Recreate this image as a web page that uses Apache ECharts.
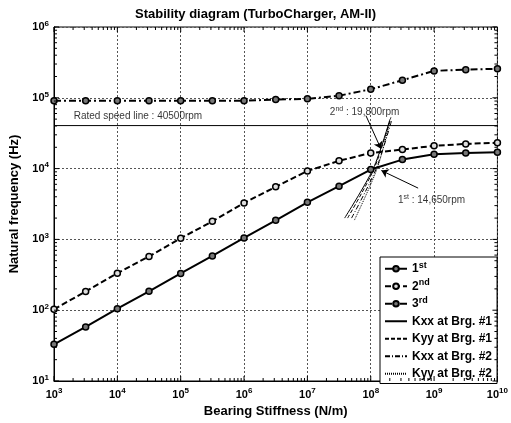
<!DOCTYPE html>
<html><head><meta charset="utf-8">
<script src="https://cdn.jsdelivr.net/npm/echarts@6/dist/echarts.min.js"></script>
<style>html,body{margin:0;padding:0;background:#fff}#c{width:511px;height:423px}</style>
</head><body><div id="c"></div>
<script>
var stiffness = [1e3, 3.16e3, 1e4, 3.16e4, 1e5, 3.16e5, 1e6, 3.16e6, 1e7, 3.16e7, 1e8, 3.16e8, 1e9, 3.16e9, 1e10];
var mode1 = [33, 58, 105, 185, 330, 585, 1050, 1860, 3340, 5650, 9700, 13400, 16000, 16600, 17000];
var mode2 = [103, 184, 333, 575, 1040, 1800, 3270, 5530, 9250, 12900, 16600, 18600, 21000, 22300, 23200];
var mode3 = [91000, 91000, 91000, 91000, 91000, 91000, 91000, 94500, 96700, 107000, 132000, 177000, 240000, 250000, 257000];
var kxx1 = [[3.87e7, 2000], [1.094e8, 9980], [2.01e8, 49700]];
var kyy1 = [[4.31e7, 2000], [1.13e8, 9980], [2.08e8, 53000]];
var kxx2 = [[4.98e7, 2000], [1.22e8, 9980], [2.16e8, 49700]];
var kyy2 = [[5.53e7, 1875], [1.26e8, 9980], [2.01e8, 46600]];
var ratedSpeed = 40500;
var xRange = [1e3, 1e10];
var yRange = [1e1, 1e6];
var xDecades = [3, 4, 5, 6, 7, 8, 9, 10];
var yDecades = [1, 2, 3, 4, 5, 6];

function zip(xs, ys) { return xs.map(function (x, i) { return [x, ys[i]]; }); }
var xTicks = [], yTicks = [];
xDecades.forEach(function (n) { for (var k = 1; k <= 9; k++) { if (n === 10 && k > 1) break; xTicks.push([k * Math.pow(10, n), yRange[0], k === 1 ? 1 : 0]); } });
yDecades.forEach(function (n) { for (var k = 1; k <= 9; k++) { if (n === 6 && k > 1) break; yTicks.push([xRange[0], k * Math.pow(10, n), k === 1 ? 1 : 0]); } });

var FONT = 'Liberation Sans, Arial, sans-serif';
function pow10(v) { var e = Math.round(Math.log10(v)); return '10{s|' + e + '}'; }
var richLbl = { s: { fontSize: 8, fontWeight: 'bold', fontFamily: FONT, color: '#000', padding: [0, 0, 7, 0] } };
var supRich = { s: { fontSize: 9, fontWeight: 'bold', fontFamily: FONT, color: '#000', padding: [0, 0, 7, 0], lineHeight: 17.5 } };

var chart = echarts.init(document.getElementById('c'));
var markerStyle = function (fill) { return { color: fill, borderColor: '#000', borderWidth: 1.5 }; };
var lineDefaults = { type: 'line', symbol: 'none', showSymbol: false, color: '#000', z: 3, lineStyle: { color: '#000', width: 1 } };
function kLine(name, data, type) {
  return Object.assign({}, lineDefaults, { name: name, data: data, smooth: 0.3, lineStyle: { color: '#000', width: 1, type: type } });
}
var hideSym = { opacity: 0 };

chart.setOption({
  animation: false,
  backgroundColor: '#fff',
  title: { text: 'Stability diagram (TurboCharger, AM-II)', left: 'center', top: 3, textStyle: { fontFamily: FONT, fontSize: 13, fontWeight: 'bold', color: '#000' } },
  grid: { left: 51, right: 10, top: 27, bottom: 38, show: true, borderColor: '#000', borderWidth: 1 },
  legend: {
    orient: 'vertical', left: 380, top: 257,
    backgroundColor: '#fff', borderColor: '#000', borderWidth: 1, padding: [3, 5, 1, 4],
    itemWidth: 22, itemHeight: 7, itemGap: 0,
    textStyle: { fontFamily: FONT, fontSize: 12, fontWeight: 'bold', color: '#000', lineHeight: 17.5, rich: supRich },
    formatter: function (n) {
      if (n === '1st') return '1{s|st}';
      if (n === '2nd') return '2{s|nd}';
      if (n === '3rd') return '3{s|rd}';
      return n;
    },
    data: ['1st', '2nd', '3rd',
      { name: 'Kxx at Brg. #1', itemStyle: hideSym },
      { name: 'Kyy at Brg. #1', itemStyle: hideSym },
      { name: 'Kxx at Brg. #2', itemStyle: hideSym },
      { name: 'Kyy at Brg. #2', itemStyle: hideSym }]
  },
  xAxis: {
    type: 'log', logBase: 10, min: xRange[0], max: xRange[1],
    name: 'Bearing Stiffness (N/m)', nameLocation: 'middle', nameGap: 24,
    nameTextStyle: { fontFamily: FONT, fontSize: 13, fontWeight: 'bold', color: '#000' },
    axisLine: { lineStyle: { color: '#000' } }, axisTick: { show: false },
    axisLabel: { formatter: pow10, fontFamily: FONT, fontSize: 11, fontWeight: 'bold', color: '#000', margin: 6, rich: richLbl },
    splitLine: { show: true, lineStyle: { color: '#555', type: [2, 2], width: 1 } }
  },
  yAxis: {
    type: 'log', logBase: 10, min: yRange[0], max: yRange[1],
    name: 'Natural frequency (Hz)', nameLocation: 'middle', nameGap: 33,
    nameTextStyle: { fontFamily: FONT, fontSize: 13, fontWeight: 'bold', color: '#000' },
    axisLine: { lineStyle: { color: '#000' } }, axisTick: { show: false },
    axisLabel: { formatter: pow10, fontFamily: FONT, fontSize: 11, fontWeight: 'bold', color: '#000', margin: 5, rich: richLbl },
    splitLine: { show: true, lineStyle: { color: '#555', type: [2, 2], width: 1 } }
  },
  series: [
    Object.assign({}, lineDefaults, { name: '1st', data: zip(stiffness, mode1), symbol: 'circle', showSymbol: true, symbolSize: 6, itemStyle: markerStyle('#777'), lineStyle: { color: '#000', width: 2 } }),
    Object.assign({}, lineDefaults, { name: '2nd', data: zip(stiffness, mode2), symbol: 'circle', showSymbol: true, symbolSize: 6, itemStyle: markerStyle('#ddd'), lineStyle: { color: '#000', width: 2, type: [6, 3] } }),
    Object.assign({}, lineDefaults, { name: '3rd', data: zip(stiffness, mode3), symbol: 'circle', showSymbol: true, symbolSize: 6, itemStyle: markerStyle('#777'), lineStyle: { color: '#000', width: 2, type: [7, 3, 2, 3] } }),
    kLine('Kxx at Brg. #1', kxx1, 'solid'),
    kLine('Kyy at Brg. #1', kyy1, [4, 2]),
    kLine('Kxx at Brg. #2', kxx2, [5, 2, 1, 2]),
    kLine('Kyy at Brg. #2', kyy2, [1, 1]),
    {
      name: 'rated', type: 'line', symbol: 'none', data: [[xRange[0], ratedSpeed], [xRange[1], ratedSpeed]],
      lineStyle: { color: '#000', width: 1 }, z: 2
    },
    {
      name: 'annot', type: 'scatter', symbolSize: 0, z: 5,
      data: [
        { value: [8e7, 63000], label: { formatter: '2{s|nd} : 19,800rpm', position: 'inside' } },
        { value: [9.1e8, 3600], label: { formatter: '1{s|st} : 14,650rpm', position: 'inside' } },
        { value: [2050, 54000], label: { formatter: 'Rated speed line : 40500rpm', position: 'right', distance: 0 } }
      ],
      label: { show: true, fontFamily: FONT, fontSize: 10, color: '#000', rich: { s: { fontSize: 7, fontFamily: FONT, color: '#000', padding: [0, 0, 6, 0] } } },
      markLine: {
        silent: true, symbol: ['none', 'arrow'], symbolSize: 7,
        lineStyle: { color: '#000', width: 1, type: 'solid' }, label: { show: false },
        data: [
          [{ coord: [8.4e7, 56000] }, { coord: [1.45e8, 19000] }],
          [{ coord: [5.6e8, 5300] }, { coord: [1.47e8, 9400] }]
        ]
      }
    },
    {
      name: 'xticks', type: 'custom', silent: true, z: 4, clip: false, data: xTicks,
      renderItem: function (params, api) {
        var x = api.value(0), major = api.value(2);
        var b = api.coord([x, yRange[0]]), t = api.coord([x, yRange[1]]);
        var L = major ? 5 : 3;
        return { type: 'group', children: [
          { type: 'line', shape: { x1: b[0], y1: b[1], x2: b[0], y2: b[1] - L }, style: { stroke: '#000', lineWidth: 1 } },
          { type: 'line', shape: { x1: t[0], y1: t[1], x2: t[0], y2: t[1] + L }, style: { stroke: '#000', lineWidth: 1 } }
        ] };
      }
    },
    {
      name: 'yticks', type: 'custom', silent: true, z: 4, clip: false, data: yTicks,
      renderItem: function (params, api) {
        var y = api.value(1), major = api.value(2);
        var l = api.coord([xRange[0], y]), r = api.coord([xRange[1], y]);
        var L = major ? 5 : 3;
        return { type: 'group', children: [
          { type: 'line', shape: { x1: l[0], y1: l[1], x2: l[0] + L, y2: l[1] }, style: { stroke: '#000', lineWidth: 1 } },
          { type: 'line', shape: { x1: r[0], y1: r[1], x2: r[0] - L, y2: r[1] }, style: { stroke: '#000', lineWidth: 1 } }
        ] };
      }
    }
  ]
});
</script></body></html>
